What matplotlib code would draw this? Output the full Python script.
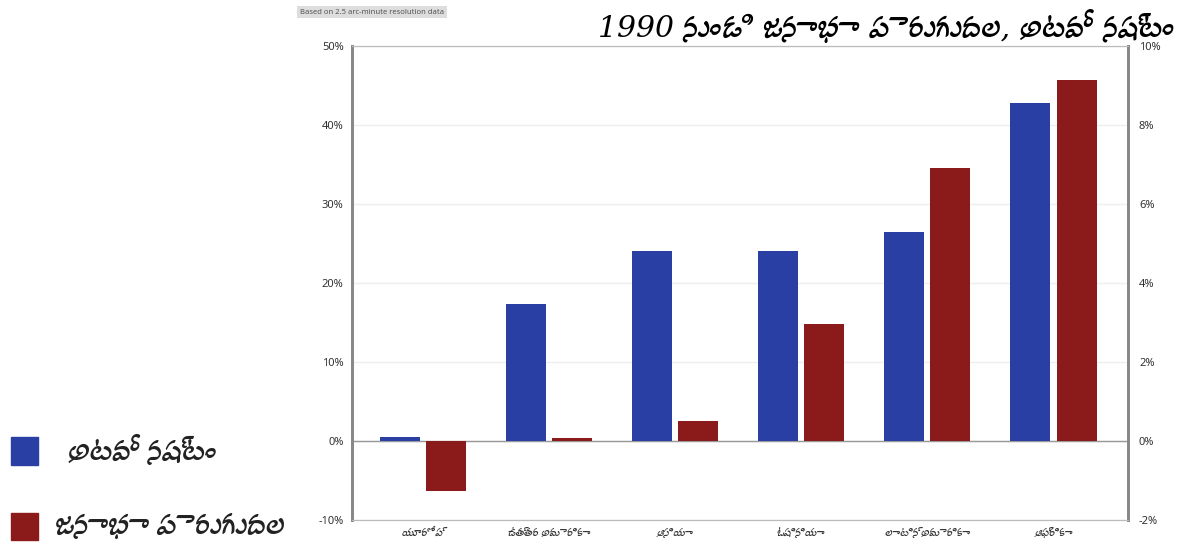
import matplotlib.pyplot as plt
import numpy as np
from matplotlib import font_manager
from matplotlib.ft2font import FT2Font
from matplotlib.patches import Rectangle

regions = ['యూరోప్', 'ఉత్తర అమెరికా', 'ఆసియా', 'ఓషినియా', 'లాటిన్ అమెరికా', 'ఆఫ్రికా']
forest_loss = [0.5, 17.3, 24.0, 24.0, 26.5, 42.8]      # left axis, %
pop_growth = [-1.26, 0.08, 0.5, 2.95, 6.9, 9.15]       # right axis, %
left_ticks = [-10, 0, 10, 20, 30, 40, 50]
right_ticks = [-2, 0, 2, 4, 6, 8, 10]

title = '1990 నుండి జనాభా పెరుగుదల, అటవీ నష్టం'
note = 'Based on 2.5 arc-minute resolution data'
legend_labels = ['అటవీ నష్టం', 'జనాభా పెరుగుదల']

# look for any installed font that has Telugu glyphs
telugu = []
for path in font_manager.findSystemFonts():
    try:
        f = FT2Font(path)
        if 0x0C05 in f.get_charmap():
            telugu.append(font_manager.FontProperties(fname=path).get_name())
    except Exception:
        pass
telugu = sorted(set(telugu))

# latin text in Noto Sans, telugu falls through to the telugu font
plt.rcParams['font.family'] = ['Noto Sans'] + telugu + ['DejaVu Sans']

blue = '#2a3fa3'
red = '#8b1a1a'

fig = plt.figure(figsize=(11.9, 5.48), dpi=100)
ax = fig.add_axes([0.2958, 0.0511, 0.652, 0.865])
ax2 = ax.twinx()

x = np.arange(len(regions))
w = 0.317
ax.bar(x - 0.183, forest_loss, w, color=blue, zorder=3)
ax2.bar(x + 0.183, pop_growth, w, color=red, zorder=3)

ax.set_ylim(-10, 50)
ax2.set_ylim(-2, 10)
ax.set_xlim(-0.56, 5.59)
ax.set_yticks(left_ticks)
ax.set_yticklabels([f'{t}%' for t in left_ticks], fontsize=8, color='#333333')
ax2.set_yticks(right_ticks)
ax2.set_yticklabels([f'{t}%' for t in right_ticks], fontsize=8, color='#333333')
ax.set_xticks(x)
ax.set_xticklabels(regions, fontsize=8, color='#333333')
ax.tick_params(length=0, pad=6)
ax2.tick_params(length=0, pad=8)

ax.grid(axis='y', color='#eeeeee', lw=1, zorder=0)
ax.axhline(0, color='#999999', lw=1, zorder=2)

for a in (ax, ax2):
    a.spines['left'].set_color('#888888')
    a.spines['left'].set_linewidth(2)
    a.spines['right'].set_color('#888888')
    a.spines['right'].set_linewidth(2)
    a.spines['top'].set_color('#bbbbbb')
    a.spines['bottom'].set_color('#bbbbbb')

fig.text(0.987, 0.953, title, ha='right', va='center', fontsize=21.5,
         style='italic', family=['DejaVu Serif'] + telugu + ['Noto Sans'])
fig.text(0.252, 0.978, note, ha='left', va='center', fontsize=5.5, color='#555555',
         family=['Noto Sans'],
         bbox=dict(facecolor='#dddddd', edgecolor='none', pad=2))

# legend drawn by hand at the left
for i, (lab, col) in enumerate(zip(legend_labels, [blue, red])):
    yc = 0.177 - i * 0.138
    fig.add_artist(Rectangle((0.009, yc - 0.025), 0.023, 0.05, color=col,
                             transform=fig.transFigure))
    fig.text(0.057 - i * 0.011, yc, lab, ha='left', va='center', fontsize=21,
             color='#222222')

plt.savefig('out.png')
